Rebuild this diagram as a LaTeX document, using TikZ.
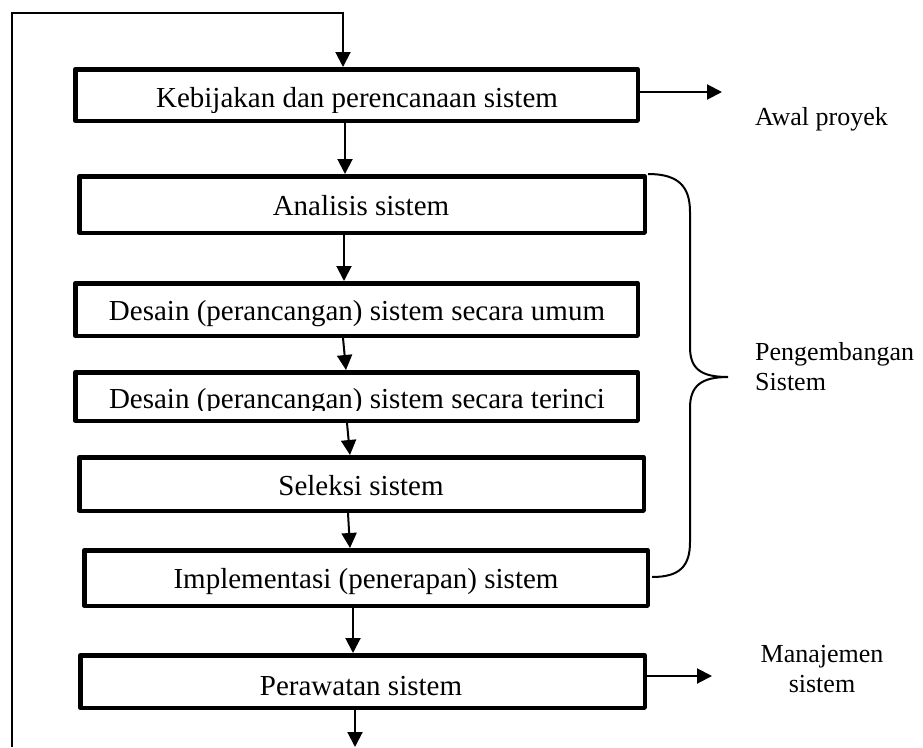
\documentclass[tikz,border=0pt]{standalone}
\usepackage{fontspec}
\setmainfont{Liberation Serif}
\usetikzlibrary{arrows.meta}
\tikzset{
  stepbox/.style={draw, line width=4.5pt, line join=round, inner sep=0pt, fill=none},
  boxtxt/.style={font=\fontsize{29}{34}\selectfont, inner sep=0pt, anchor=base},
  sidetxt/.style={font=\fontsize{26}{30}\selectfont, inner sep=0pt},
  arr/.style={line width=2pt, -{Triangle[length=15pt,width=15pt]}},
  plain/.style={line width=2pt}
}
\begin{document}
\begin{tikzpicture}[x=1pt,y=-1pt]
\useasboundingbox (0,0) rectangle (923,747);
% boxes
\node[stepbox, minimum width=562.5pt, minimum height=51.5pt] (b1) at (356.5,95) {};
\node[stepbox, minimum width=565.5pt, minimum height=56.5pt] (b2) at (362,204.5) {};
\node[stepbox, minimum width=562.5pt, minimum height=52.5pt] (b3) at (356.5,309.5) {};
\node[stepbox, minimum width=562.5pt, minimum height=48.5pt] (b4) at (356.5,396.5) {};
\node[stepbox, minimum width=564.5pt, minimum height=53.5pt] (b5) at (361.5,484) {};
\node[stepbox, minimum width=563.5pt, minimum height=55.5pt] (b6) at (366,578) {};
\node[stepbox, minimum width=564.5pt, minimum height=52.5pt] (b7) at (362.5,681.5) {};
% texts
\begin{scope}
\clip (60,60) rectangle (660,112);
\node[boxtxt] (t1) at (357,107) {Kebijakan dan perencanaan sistem};
\end{scope}
\node[boxtxt] (t2) at (361,215) {Analisis sistem};
\node[boxtxt] (t3) at (357,320) {Desain (perancangan) sistem secara umum};
\begin{scope}
\clip (60,360) rectangle (660,410.5);
\node[boxtxt] (t4) at (357,408) {Desain (perancangan) sistem secara terinci};
\end{scope}
\node[boxtxt] (t5) at (361,495) {Seleksi sistem};
\node[boxtxt] (t6) at (366,588) {Implementasi (penerapan) sistem};
\node[boxtxt] (t7) at (361,695) {Perawatan sistem};
% x guides
\coordinate (x343) at (343,0);
\coordinate (x344) at (344,0);
\coordinate (x345) at (345,0);
\coordinate (x346) at (346,0);
\coordinate (x347) at (347,0);
\coordinate (x348) at (348,0);
\coordinate (x350) at (350,0);
\coordinate (x353) at (353,0);
% loop
\coordinate (loopL) at (12,747);
\coordinate (loopT) at (343,13);
\draw[arr, line join=miter] (loopL) |- (loopT) -- (b1.north -| loopT);
% arrows
\draw[arr] (b1.south -| x345) -- (b2.north -| x345);
\draw[arr] (b2.south -| x344) -- (b3.north -| x344);
\draw[arr] (b3.south -| x343) -- (b4.north -| x346);
\draw[arr] (b4.south -| x347) -- (b5.north -| x350);
\draw[arr] (b5.south -| x348) -- (b6.north -| x350);
\draw[arr] (b6.south -| x353) -- (b7.north -| x353);
\coordinate (endB) at (355,747);
\draw[arr] (b7.south -| endB) -- (endB);
% side arrows
\coordinate (awalEnd) at (722,92);
\draw[arr] (b1.east |- awalEnd) -- (awalEnd);
\coordinate (manEnd) at (712,676);
\draw[arr] (b7.east |- manEnd) -- (manEnd);
% brace
\draw[plain] (648,174) .. controls (678,174) and (690,186) .. (690,212)
  -- (690,347) .. controls (690,369) and (701,377) .. (728,377)
  .. controls (701,377) and (690,386) .. (690,408)
  -- (690,542) .. controls (690,566) and (680,577) .. (652,577);
% side labels
\node[sidetxt, anchor=base west] (awal) at (755,125) {Awal proyek};
\node[sidetxt, anchor=base west] (peng1) at (755,360) {Pengembangan};
\node[sidetxt, anchor=base west] (peng2) at (755,390) {Sistem};
\node[sidetxt, anchor=base] (man1) at (822,662) {Manajemen};
\node[sidetxt, anchor=base] (man2) at (822,692) {sistem};
\end{tikzpicture}
\end{document}
